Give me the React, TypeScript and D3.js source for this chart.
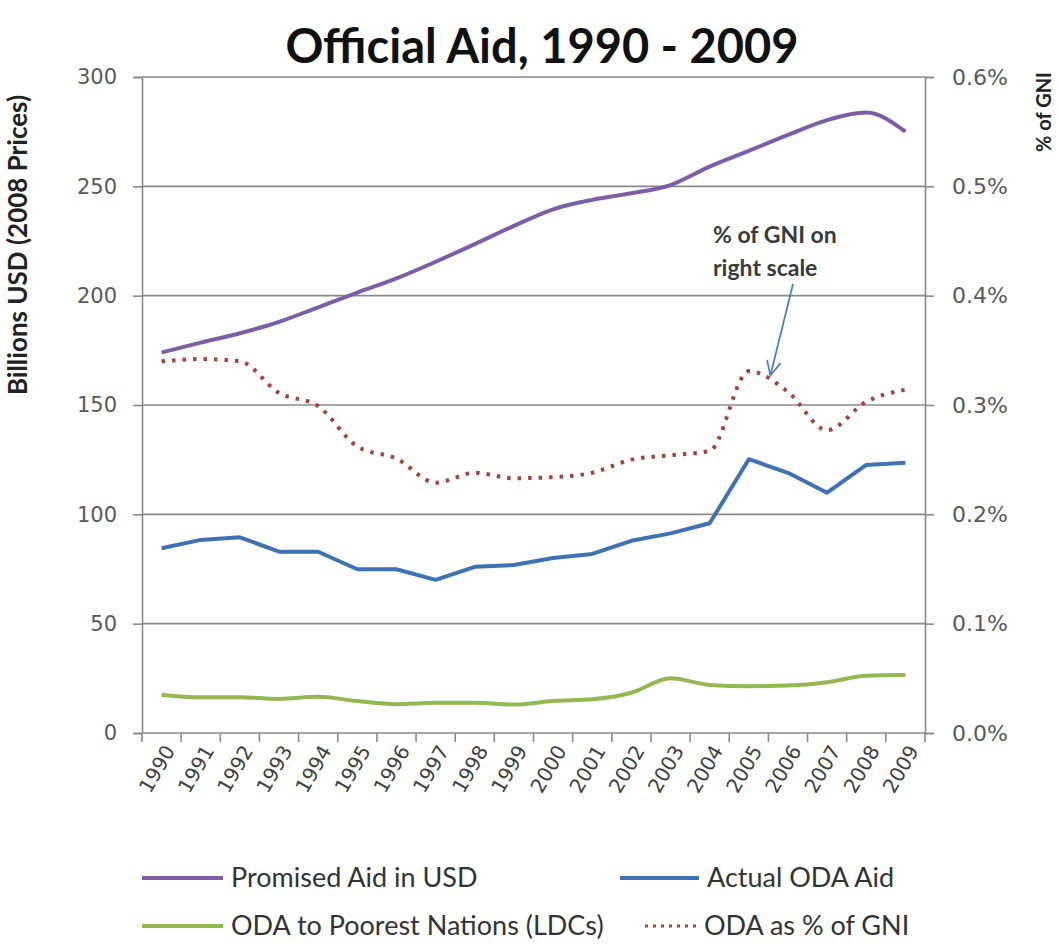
import { useRef, useEffect } from 'react';
import * as d3 from 'd3';

const years = [
    '1990', '1991', '1992', '1993', '1994', '1995', '1996', '1997', '1998', '1999',
    '2000', '2001', '2002', '2003', '2004', '2005', '2006', '2007', '2008', '2009',
];

// Billions USD (2008 prices), left scale
const promisedAid = [174, 178.5, 182.8, 188, 194.7, 201.4, 207.9, 215.5, 223.6, 231.9,
    239.5, 243.8, 246.8, 250.6, 259, 266.2, 273.5, 280.3, 283.8, 275];
const actualOda = [84.5, 88.3, 89.5, 82.9, 82.9, 74.9, 74.9, 70, 76, 76.8,
    80, 81.9, 87.9, 91.3, 95.9, 125.2, 119, 109.9, 122.6, 123.6];
const ldcOda = [17.5, 16.3, 16.4, 15.6, 16.6, 14.6, 13.2, 13.8, 13.8, 13,
    14.6, 15.4, 18.4, 25, 22, 21.4, 21.7, 23.2, 26.2, 26.5];

// % of GNI, right scale (fractions)
const gniShare = [0.00340, 0.00342, 0.00340, 0.00311, 0.00299, 0.00262, 0.00251, 0.00229, 0.00238, 0.00233,
    0.00234, 0.00238, 0.00250, 0.00254, 0.00258, 0.00331, 0.00312, 0.00277, 0.00303, 0.00314];

const leftTicks = [0, 50, 100, 150, 200, 250, 300];
const rightTicks = [0, 0.001, 0.002, 0.003, 0.004, 0.005, 0.006];

const seriesNames = ['Promised Aid in USD', 'Actual ODA Aid', 'ODA to Poorest Nations (LDCs)', 'ODA as % of GNI'];
const seriesColors = ['#7b5ea7', '#3f72b5', '#93b84f', '#a8403d'];

const W = 1059;
const H = 945;
const LABEL_FONT = 'Lato, "Open Sans", sans-serif';
const TICK_FONT = '"DejaVu Sans", Verdana, sans-serif';

export default function App() {
    const svgRef = useRef<SVGSVGElement>(null);

    useEffect(() => {
        if (!svgRef.current) return;
        const margin = { top: 77, right: 134, bottom: 212, left: 142 };
        const x0 = margin.left;
        const x1 = W - margin.right;
        const yTop = margin.top;
        const yBot = H - margin.bottom;

        const svg = d3.select(svgRef.current);
        svg.selectAll('*').remove();
        svg.attr('width', W).attr('height', H);

        svg.append('rect').attr('width', W).attr('height', H).attr('fill', '#ffffff');

        const xScale = d3.scaleBand<string>().domain(years).range([x0, x1]).padding(0);
        const yLeft = d3.scaleLinear().domain([0, 300]).range([yBot, yTop]);
        const yRight = d3.scaleLinear().domain([0, 0.006]).range([yBot, yTop]);
        const cx = (y: string) => (xScale(y) ?? 0) + xScale.bandwidth() / 2;

        // Title
        svg.append('text')
            .attr('x', 542)
            .attr('y', 63)
            .attr('text-anchor', 'middle')
            .attr('font-family', LABEL_FONT)
            .attr('font-size', '47px')
            .attr('font-weight', '700')
            .attr('fill', '#111')
            .text('Official Aid, 1990 - 2009');

        // Gridlines
        svg.append('g')
            .selectAll('line')
            .data(leftTicks.slice(1))
            .enter()
            .append('line')
            .attr('x1', x0)
            .attr('x2', x1)
            .attr('y1', d => yLeft(d))
            .attr('y2', d => yLeft(d))
            .attr('stroke', '#8a8a8a')
            .attr('stroke-width', 1.6);

        // Left axis
        const leftAxis = svg.append('g')
            .attr('transform', `translate(${x0},0)`)
            .call(d3.axisLeft(yLeft).tickValues(leftTicks).tickSize(9).tickPadding(16));
        leftAxis.select('.domain').attr('stroke', '#8a8a8a').attr('stroke-width', 1.6);
        leftAxis.selectAll('.tick line').attr('stroke', '#8a8a8a').attr('stroke-width', 1.6);
        leftAxis.selectAll('.tick text')
            .attr('fill', '#595959')
            .attr('font-family', TICK_FONT)
            .attr('font-size', '21px');

        // Right axis
        const rightAxis = svg.append('g')
            .attr('transform', `translate(${x1},0)`)
            .call(d3.axisRight(yRight).tickValues(rightTicks).tickSize(9).tickPadding(18).tickFormat(d3.format('.1%')));
        rightAxis.select('.domain').attr('stroke', '#8a8a8a').attr('stroke-width', 1.6);
        rightAxis.selectAll('.tick line').attr('stroke', '#8a8a8a').attr('stroke-width', 1.6);
        rightAxis.selectAll('.tick text')
            .attr('fill', '#595959')
            .attr('font-family', TICK_FONT)
            .attr('font-size', '22px');

        // Bottom axis line + ticks at category boundaries
        svg.append('line')
            .attr('x1', x0).attr('x2', x1)
            .attr('y1', yBot).attr('y2', yBot)
            .attr('stroke', '#8a8a8a').attr('stroke-width', 1.6);
        svg.append('g')
            .selectAll('line')
            .data([...years.map(y => xScale(y) ?? 0), x1])
            .enter()
            .append('line')
            .attr('x1', d => d).attr('x2', d => d)
            .attr('y1', yBot).attr('y2', yBot + 9)
            .attr('stroke', '#8a8a8a').attr('stroke-width', 1.6);

        // Year labels
        svg.append('g')
            .selectAll('text')
            .data(years)
            .enter()
            .append('text')
            .attr('transform', d => `translate(${cx(d) + 8},${yBot + 14}) rotate(-60)`)
            .attr('text-anchor', 'end')
            .attr('dy', '0.35em')
            .attr('font-family', TICK_FONT)
            .attr('font-size', '20px')
            .attr('fill', '#404040')
            .text(d => d);

        // Axis titles
        svg.append('text')
            .attr('transform', `translate(27,245) rotate(-90)`)
            .attr('text-anchor', 'middle')
            .attr('font-family', LABEL_FONT)
            .attr('font-size', '26px')
            .attr('font-weight', '700')
            .attr('fill', '#222')
            .text('Billions USD (2008 Prices)');
        svg.append('text')
            .attr('transform', `translate(1051,112) rotate(-90)`)
            .attr('text-anchor', 'middle')
            .attr('font-family', LABEL_FONT)
            .attr('font-size', '20px')
            .attr('font-weight', '700')
            .attr('fill', '#222')
            .text('% of GNI');

        // Lines
        const leftLine = (curve: d3.CurveFactory) => d3.line<number>()
            .x((_, i) => cx(years[i]))
            .y(d => yLeft(d))
            .curve(curve);
        const rightLine = d3.line<number>()
            .x((_, i) => cx(years[i]))
            .y(d => yRight(d))
            .curve(d3.curveMonotoneX);

        svg.append('path')
            .datum(ldcOda)
            .attr('d', leftLine(d3.curveMonotoneX))
            .attr('fill', 'none')
            .attr('stroke', seriesColors[2])
            .attr('stroke-width', 4);
        svg.append('path')
            .datum(actualOda)
            .attr('d', leftLine(d3.curveLinear))
            .attr('fill', 'none')
            .attr('stroke', seriesColors[1])
            .attr('stroke-width', 4)
            .attr('stroke-linejoin', 'round');
        svg.append('path')
            .datum(promisedAid)
            .attr('d', leftLine(d3.curveMonotoneX))
            .attr('fill', 'none')
            .attr('stroke', seriesColors[0])
            .attr('stroke-width', 4);
        svg.append('path')
            .datum(gniShare)
            .attr('d', rightLine)
            .attr('fill', 'none')
            .attr('stroke', seriesColors[3])
            .attr('stroke-width', 4)
            .attr('stroke-dasharray', '3.5 7');

        // Annotation
        const ann = svg.append('g');
        ann.append('text')
            .attr('x', 713).attr('y', 243)
            .attr('font-family', LABEL_FONT)
            .attr('font-size', '23px')
            .attr('font-weight', '700')
            .attr('fill', '#3a3a3a')
            .text('% of GNI on');
        ann.append('text')
            .attr('x', 713).attr('y', 276)
            .attr('font-family', LABEL_FONT)
            .attr('font-size', '23px')
            .attr('font-weight', '700')
            .attr('fill', '#3a3a3a')
            .text('right scale');
        const tipX = cx('2005') + xScale.bandwidth() * 0.55;
        const tipY = yRight(0.00327);
        const startX = 793;
        const startY = 284;
        const ang = Math.atan2(tipY - startY, tipX - startX);
        ann.append('line')
            .attr('x1', startX).attr('y1', startY)
            .attr('x2', tipX).attr('y2', tipY)
            .attr('stroke', '#4f7fbf').attr('stroke-width', 1.8);
        const head = 16;
        [-0.45, 0.45].forEach(off => {
            ann.append('line')
                .attr('x1', tipX).attr('y1', tipY)
                .attr('x2', tipX - head * Math.cos(ang + off))
                .attr('y2', tipY - head * Math.sin(ang + off))
                .attr('stroke', '#4f7fbf').attr('stroke-width', 1.8);
        });

        // Legend
        const legendPos = [
            { x: 142, y: 878, len: 81 },
            { x: 620, y: 878, len: 79 },
            { x: 142, y: 926, len: 81 },
            { x: 645, y: 926, len: 51 },
        ];
        const legend = svg.append('g');
        seriesNames.forEach((name, i) => {
            const p = legendPos[i];
            legend.append('line')
                .attr('x1', p.x).attr('x2', p.x + p.len)
                .attr('y1', p.y).attr('y2', p.y)
                .attr('stroke', seriesColors[i])
                .attr('stroke-width', i === 3 ? 3 : 4)
                .attr('stroke-dasharray', i === 3 ? '3 5' : null);
            legend.append('text')
                .attr('x', p.x + p.len + 8)
                .attr('y', p.y)
                .attr('dy', '0.35em')
                .attr('font-family', LABEL_FONT)
                .attr('font-size', '27px')
                .attr('fill', '#333')
                .text(name);
        });
    }, []);

    return (
        <div style={{ position: 'absolute', left: 0, top: 0, width: W, height: H }}>
            <svg ref={svgRef} style={{ display: 'block' }} />
        </div>
    );
}
